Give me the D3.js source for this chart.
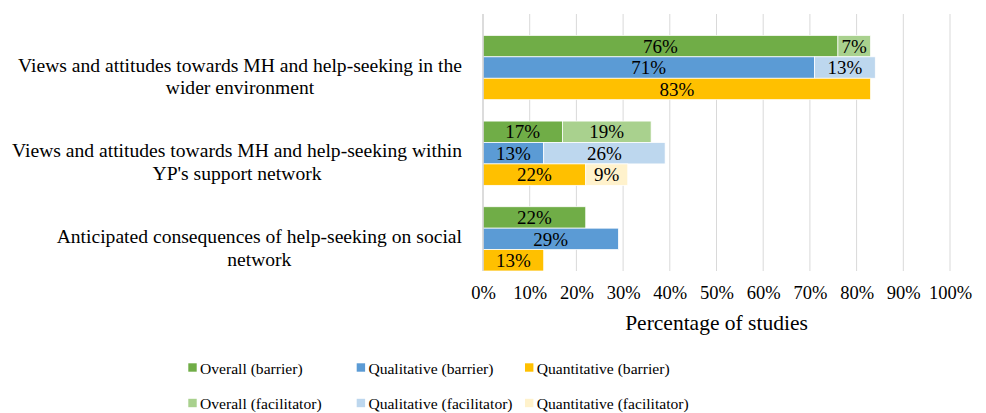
<!DOCTYPE html>
<html>
<head>
<meta charset="utf-8">
<script src="https://cdn.jsdelivr.net/npm/d3@7"></script>
<style>
  body { margin: 0; background: #fff; }
  svg text { font-family: "Liberation Serif", "Times New Roman", serif; }
</style>
</head>
<body>
<script>
// categories, top to bottom
var categories = [
  ["Views and attitudes towards MH and help-seeking in the", "wider environment"],
  ["Views and attitudes towards MH and help-seeking within", "YP's support network"],
  ["Anticipated consequences of help-seeking on social", "network"]
];

var studyTypes = ["Overall", "Qualitative", "Quantitative"];

// percentages per category
var overallBarrier = [76, 17, 22];
var overallFacilitator = [7, 19, 0];
var qualitativeBarrier = [71, 13, 29];
var qualitativeFacilitator = [13, 26, 0];
var quantitativeBarrier = [83, 22, 13];
var quantitativeFacilitator = [0, 9, 0];

var xTicks = [0, 10, 20, 30, 40, 50, 60, 70, 80, 90, 100];

var barrierColors = ["#70AD47", "#5B9BD5", "#FFC000"];
var facilitatorColors = ["#A9D18E", "#BDD7EE", "#FFF2CC"];

var barrier = [overallBarrier, qualitativeBarrier, quantitativeBarrier];
var facilitator = [overallFacilitator, qualitativeFacilitator, quantitativeFacilitator];

var W = 986, H = 413;
var plotLeft = 483, plotRight = 950, plotTop = 14, plotBottom = 271;

var svg = d3.select("body").append("svg")
  .attr("width", W)
  .attr("height", H)
  .attr("font-family", "Liberation Serif, serif");

// each category gets a blank row followed by one row per study type
var rowKeys = [];
categories.forEach(function(c, ci) {
  rowKeys.push(ci + "|gap");
  studyTypes.forEach(function(s) { rowKeys.push(ci + "|" + s); });
});

var x = d3.scaleLinear().domain([0, 100]).range([plotLeft, plotRight]);
var y = d3.scaleBand().domain(rowKeys).range([plotTop, plotBottom]).padding(0);

// gridlines
svg.append("g")
  .selectAll("line")
  .data(xTicks.slice(1))
  .join("line")
  .attr("x1", d => x(d)).attr("x2", d => x(d))
  .attr("y1", plotTop).attr("y2", plotBottom)
  .attr("stroke", "#d9d9d9")
  .attr("stroke-width", 1);

// build segments
var segs = [];
categories.forEach(function(c, ci) {
  studyTypes.forEach(function(s, si) {
    var b = barrier[si][ci], f = facilitator[si][ci];
    if (b > 0) segs.push({row: ci + "|" + s, x0: 0, x1: b, color: barrierColors[si], v: b});
    if (f > 0) segs.push({row: ci + "|" + s, x0: b, x1: b + f, color: facilitatorColors[si], v: f});
  });
});

svg.append("g")
  .selectAll("rect")
  .data(segs)
  .join("rect")
  .attr("x", d => x(d.x0))
  .attr("y", d => y(d.row))
  .attr("width", d => x(d.x1) - x(d.x0))
  .attr("height", y.bandwidth())
  .attr("fill", d => d.color)
  .attr("stroke", "#fff")
  .attr("stroke-width", 0.75);

svg.append("g")
  .selectAll("text")
  .data(segs)
  .join("text")
  .attr("x", d => (x(d.x0) + x(d.x1)) / 2)
  .attr("y", d => y(d.row) + y.bandwidth() / 2)
  .attr("dy", "0.35em")
  .attr("text-anchor", "middle")
  .attr("font-size", 19)
  .attr("fill", "#000")
  .text(d => d.v + "%");

// vertical axis line
svg.append("line")
  .attr("x1", plotLeft).attr("x2", plotLeft)
  .attr("y1", plotTop).attr("y2", plotBottom)
  .attr("stroke", "#d0d0d0")
  .attr("stroke-width", 1.5);

// x axis tick labels
var xAxis = d3.axisBottom(x).tickValues(xTicks).tickSize(0).tickPadding(0).tickFormat(d => d + "%");
var gx = svg.append("g")
  .attr("transform", "translate(0," + plotBottom + ")")
  .call(xAxis)
  .attr("font-family", null)
  .attr("font-size", null);
gx.select(".domain").remove();
gx.selectAll("text")
  .attr("font-size", 18.5)
  .attr("fill", "#000")
  .attr("dy", null)
  .attr("y", 28);

svg.append("text")
  .attr("x", (plotLeft + plotRight) / 2)
  .attr("y", 330)
  .attr("text-anchor", "middle")
  .attr("font-size", 21.5)
  .attr("fill", "#000")
  .text("Percentage of studies");

// category labels, wrapped block right-aligned to 462, lines centred
var labelRight = 462;
categories.forEach(function(lines, ci) {
  var cy = y(ci + "|Qualitative") + y.bandwidth() / 2;
  var g = svg.append("g");
  var texts = g.selectAll("text")
    .data(lines)
    .join("text")
    .attr("y", (d, i) => cy + 4 + i * 22.7)
    .attr("text-anchor", "middle")
    .attr("font-size", 19.6)
    .attr("fill", "#000")
    .text(d => d);
  var maxW = d3.max(texts.nodes(), n => n.getComputedTextLength());
  texts.attr("x", labelRight - maxW / 2);
});

// legend
var legendItems = [];
studyTypes.forEach(function(s, si) {
  legendItems.push({label: s + " (barrier)", color: barrierColors[si], col: si, row: 0});
});
studyTypes.forEach(function(s, si) {
  legendItems.push({label: s + " (facilitator)", color: facilitatorColors[si], col: si, row: 1});
});
var legendX = [188.3, 356.7, 525];
var legendY = [367.5, 403];

var lg = svg.append("g")
  .selectAll("g")
  .data(legendItems)
  .join("g")
  .attr("transform", d => "translate(" + legendX[d.col] + "," + legendY[d.row] + ")");
lg.append("rect")
  .attr("x", 0).attr("y", -4.2)
  .attr("width", 8.4).attr("height", 8.4)
  .attr("fill", d => d.color);
lg.append("text")
  .attr("x", 11.7)
  .attr("y", 6.3)
  .attr("font-size", 15.6)
  .attr("fill", "#000")
  .text(d => d.label);
</script>
</body>
</html>
